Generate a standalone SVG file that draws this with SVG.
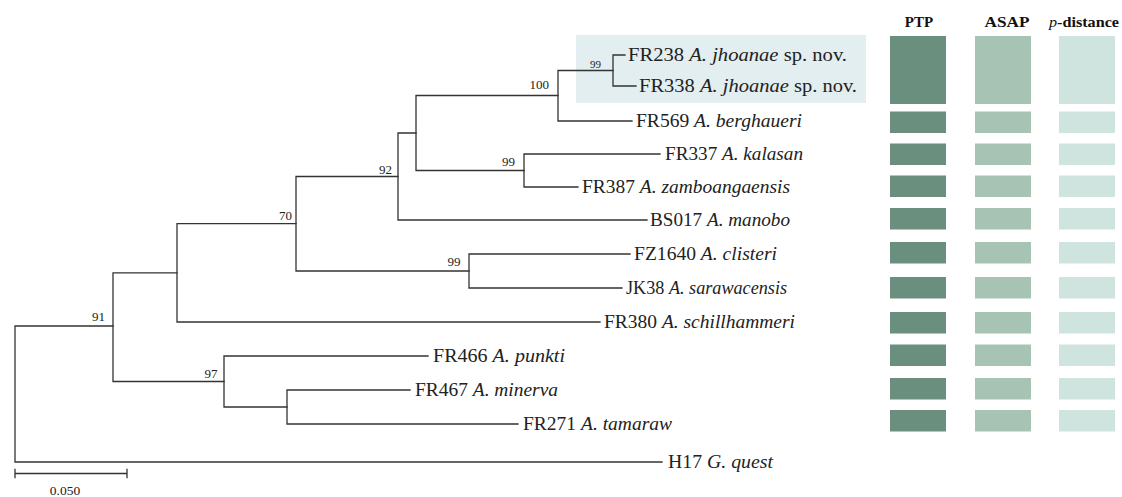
<svg xmlns="http://www.w3.org/2000/svg" width="1122" height="497" viewBox="0 0 1122 497">
<style>
.br{fill:none;stroke:#333;stroke-width:1.3;stroke-linecap:square}
.tip{font-family:"Liberation Serif",serif;font-size:18px;fill:#222}
.sup{font-family:"Liberation Serif",serif;font-size:13px;fill:#222;text-anchor:end}
.hd{font-family:"Liberation Serif",serif;font-size:15px;font-weight:bold;fill:#111;text-anchor:middle}
.i{font-style:italic}
.ptp{fill:#6b8f7f}
.asap{fill:#a6c3b4}
.pd{fill:#cfe3df}
</style>
<rect id="highlight" x="576" y="35" width="290" height="68" fill="#e3eef0"/>
<g id="connectors">
<path class="br" d="M15 326V462M15 326H113M15 462H662"/>
<path class="br" d="M113 272.9V381.5M113 272.9H177M113 381.5H224"/>
<path class="br" d="M177 223.7V322M177 223.7H296M177 322H600"/>
<path class="br" d="M296 176.5V271M296 176.5H398M296 271H469"/>
<path class="br" d="M398 133V220M398 133H416M398 220H647"/>
<path class="br" d="M416 95.5V170.5M416 95.5H558M416 170.5H524"/>
<path class="br" d="M558 70.5V121M558 70.5H613M558 121H632"/>
<path class="br" d="M613 55V86M613 55H625M613 86H636"/>
<path class="br" d="M524 154V187M524 154H660M524 187H578"/>
<path class="br" d="M469 254V288M469 254H630M469 288H622"/>
<path class="br" d="M224 356V407M224 356H428M224 407H287"/>
<path class="br" d="M287 390V424M287 390H410M287 424H518"/>
</g>
<g id="support">
<text class="sup" x="105" y="321">91</text>
<text class="sup" x="292" y="220">70</text>
<text class="sup" x="392" y="173.5">92</text>
<text class="sup" x="549" y="89">100</text>
<text class="sup" x="601" y="68" style="font-size:11px">99</text>
<text class="sup" x="515" y="166">99</text>
<text class="sup" x="460.5" y="266">99</text>
<text class="sup" x="217.5" y="378">97</text>
</g>
<g id="FR238"><text class="tip" x="628" y="61" textLength="219" lengthAdjust="spacingAndGlyphs">FR238 <tspan class="i">A. jhoanae</tspan> sp. nov.</text></g>
<g id="FR338"><text class="tip" x="639" y="92" textLength="218" lengthAdjust="spacingAndGlyphs">FR338 <tspan class="i">A. jhoanae</tspan> sp. nov.</text></g>
<g id="FR569"><text class="tip" x="636" y="127" textLength="166" lengthAdjust="spacingAndGlyphs">FR569 <tspan class="i">A. berghaueri</tspan></text></g>
<g id="FR337"><text class="tip" x="665" y="160" textLength="138" lengthAdjust="spacingAndGlyphs">FR337 <tspan class="i">A. kalasan</tspan></text></g>
<g id="FR387"><text class="tip" x="582" y="193" textLength="208" lengthAdjust="spacingAndGlyphs">FR387 <tspan class="i">A. zamboangaensis</tspan></text></g>
<g id="BS017"><text class="tip" x="650" y="226" textLength="140" lengthAdjust="spacingAndGlyphs">BS017 <tspan class="i">A. manobo</tspan></text></g>
<g id="FZ1640"><text class="tip" x="634" y="260" textLength="143" lengthAdjust="spacingAndGlyphs">FZ1640 <tspan class="i">A. clisteri</tspan></text></g>
<g id="JK38"><text class="tip" x="626" y="294" textLength="161" lengthAdjust="spacingAndGlyphs">JK38 <tspan class="i">A. sarawacensis</tspan></text></g>
<g id="FR380"><text class="tip" x="604" y="328" textLength="191" lengthAdjust="spacingAndGlyphs">FR380 <tspan class="i">A. schillhammeri</tspan></text></g>
<g id="FR466"><text class="tip" x="433" y="362" textLength="132" lengthAdjust="spacingAndGlyphs">FR466 <tspan class="i">A. punkti</tspan></text></g>
<g id="FR467"><text class="tip" x="415" y="396" textLength="143" lengthAdjust="spacingAndGlyphs">FR467 <tspan class="i">A. minerva</tspan></text></g>
<g id="FR271"><text class="tip" x="523" y="430" textLength="149" lengthAdjust="spacingAndGlyphs">FR271 <tspan class="i">A. tamaraw</tspan></text></g>
<g id="H17"><text class="tip" x="668" y="468" textLength="105" lengthAdjust="spacingAndGlyphs">H17 <tspan class="i">G. quest</tspan></text></g>
<g id="scalebar">
<path class="br" d="M15 473.5H127M15 469.5V477.5M127 469.5V477.5"/>
<text x="65" y="495" text-anchor="middle" style="font-family:'Liberation Serif',serif;font-size:13.5px;fill:#222">0.050</text>
</g>
<g id="headers">
<text class="hd" x="919" y="27">PTP</text>
<text class="hd" x="1007" y="27" textLength="45" lengthAdjust="spacingAndGlyphs">ASAP</text>
<text class="hd" x="1084" y="27" textLength="70" lengthAdjust="spacingAndGlyphs"><tspan class="i" style="font-weight:normal">p</tspan>-distance</text>
</g>
<g id="delimitation">
<rect class="ptp" x="890" y="36" width="56" height="68"/><rect class="asap" x="975" y="36" width="56" height="68"/><rect class="pd" x="1059" y="36" width="56" height="68"/>
<rect class="ptp" x="890" y="111.5" width="56" height="21.5"/><rect class="asap" x="975" y="111.5" width="56" height="21.5"/><rect class="pd" x="1059" y="111.5" width="56" height="21.5"/>
<rect class="ptp" x="890" y="143.5" width="56" height="21.5"/><rect class="asap" x="975" y="143.5" width="56" height="21.5"/><rect class="pd" x="1059" y="143.5" width="56" height="21.5"/>
<rect class="ptp" x="890" y="175.5" width="56" height="21.5"/><rect class="asap" x="975" y="175.5" width="56" height="21.5"/><rect class="pd" x="1059" y="175.5" width="56" height="21.5"/>
<rect class="ptp" x="890" y="208" width="56" height="21.5"/><rect class="asap" x="975" y="208" width="56" height="21.5"/><rect class="pd" x="1059" y="208" width="56" height="21.5"/>
<rect class="ptp" x="890" y="242" width="56" height="21.5"/><rect class="asap" x="975" y="242" width="56" height="21.5"/><rect class="pd" x="1059" y="242" width="56" height="21.5"/>
<rect class="ptp" x="890" y="277" width="56" height="21.5"/><rect class="asap" x="975" y="277" width="56" height="21.5"/><rect class="pd" x="1059" y="277" width="56" height="21.5"/>
<rect class="ptp" x="890" y="312" width="56" height="21.5"/><rect class="asap" x="975" y="312" width="56" height="21.5"/><rect class="pd" x="1059" y="312" width="56" height="21.5"/>
<rect class="ptp" x="890" y="344.5" width="56" height="21.5"/><rect class="asap" x="975" y="344.5" width="56" height="21.5"/><rect class="pd" x="1059" y="344.5" width="56" height="21.5"/>
<rect class="ptp" x="890" y="378" width="56" height="21.5"/><rect class="asap" x="975" y="378" width="56" height="21.5"/><rect class="pd" x="1059" y="378" width="56" height="21.5"/>
<rect class="ptp" x="890" y="410" width="56" height="21.5"/><rect class="asap" x="975" y="410" width="56" height="21.5"/><rect class="pd" x="1059" y="410" width="56" height="21.5"/>
</g>
</svg>
